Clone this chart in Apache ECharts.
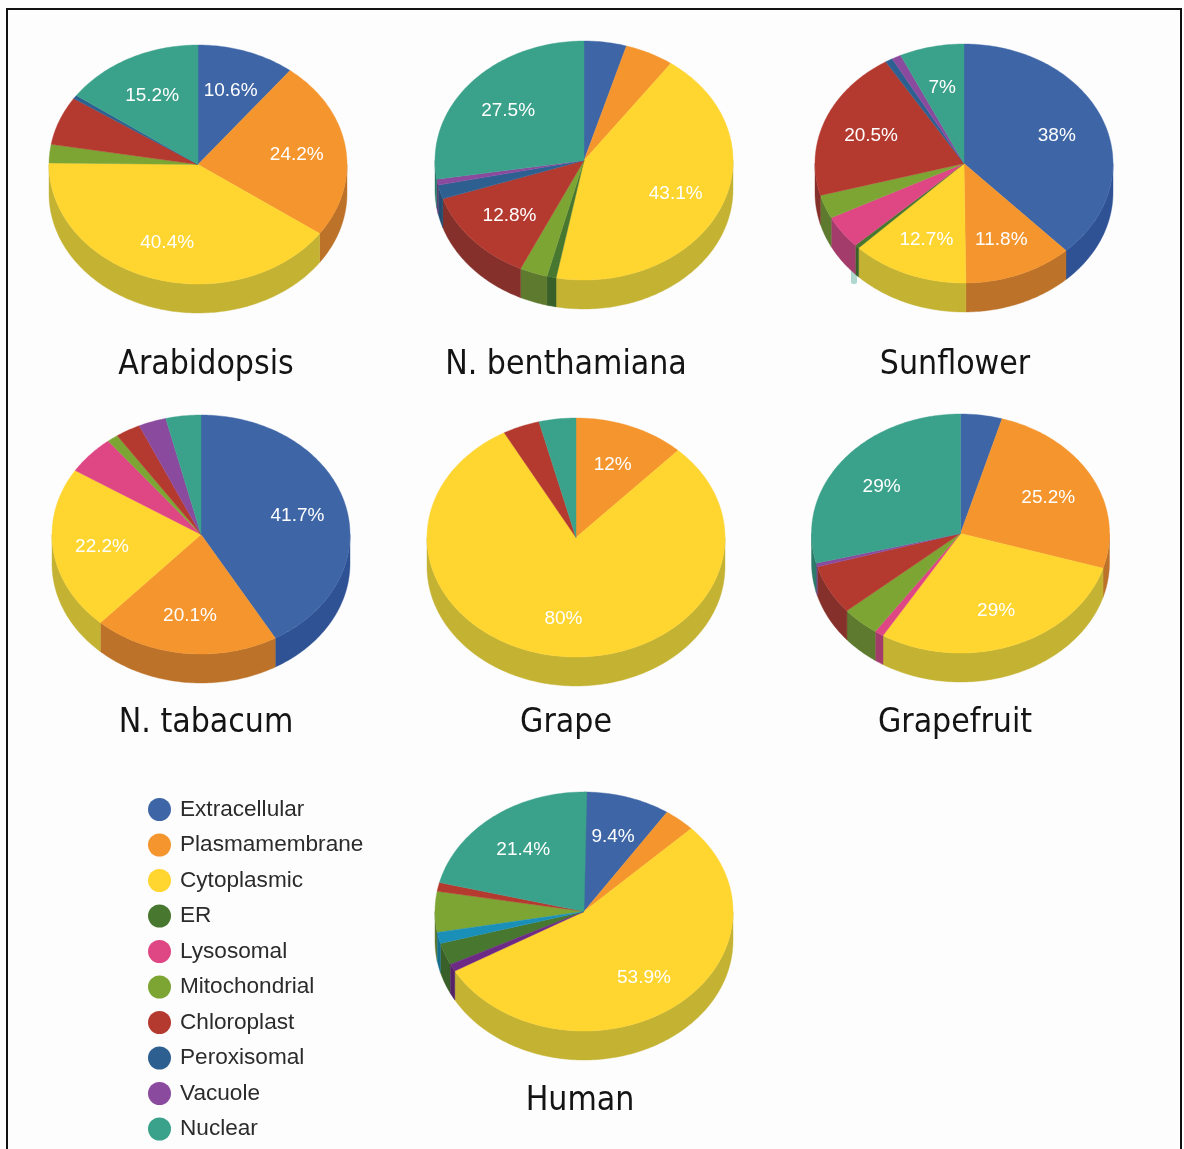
<!DOCTYPE html>
<html>
<head>
<meta charset="utf-8">
<title>Subcellular localisation by species</title>
<script src="https://cdn.jsdelivr.net/npm/echarts@6/dist/echarts.min.js"></script>
<style>
html,body{margin:0;padding:0;background:#fdfdfd;overflow:hidden}
#chart{width:1184px;height:1149px}
</style>
</head>
<body>
<div id="chart"></div>
<script>
// Species, one pie each, in the same order as the value arrays below.
const species = ['Arabidopsis', 'N. benthamiana', 'Sunflower', 'N. tabacum', 'Grape', 'Grapefruit', 'Human'];

// Share of predicted proteins per compartment (percent), per species.
const extracellular  = [10.6, 4.6, 38.0, 41.7, 0, 4.5, 9.4];
const plasmamembrane = [24.2, 5.3, 11.8, 20.1, 12, 25.2, 3.4];
const cytoplasmic    = [40.4, 43.1, 12.7, 22.2, 80, 29, 53.9];
const er             = [0, 1.0, 0.5, 0, 0, 0, 3.0];
const lysosomal      = [0, 0, 4.5, 5.3, 0, 1.0, 0];
const mitochondrial  = [2.5, 3.0, 3.2, 1.2, 0, 4.1, 5.5];
const chloroplast    = [6.6, 12.8, 20.5, 2.7, 4, 6.7, 1.2];
const peroxisomal    = [0.5, 1.9, 0.8, 0, 0, 0, 0];
const vacuole        = [0, 0.8, 1.0, 3.0, 0, 0.5, 1.0];
const nuclear        = [15.2, 27.5, 7, 3.8, 4, 29, 21.4];
const unlisted       = [0, 0, 0, 0, 0, 0, 1.5];

const compartments = [
  { name: 'Extracellular',  values: extracellular,  top: '#3e66a6', side: '#2f5295' },
  { name: 'Plasmamembrane', values: plasmamembrane, top: '#f4952e', side: '#bc7228' },
  { name: 'Cytoplasmic',    values: cytoplasmic,    top: '#ffd530', side: '#c4b332' },
  { name: 'ER',             values: er,             top: '#48772f', side: '#3a6029' },
  { name: 'Lysosomal',      values: lysosomal,      top: '#df4784', side: '#a33c6a' },
  { name: 'Mitochondrial',  values: mitochondrial,  top: '#7da534', side: '#5e7a2e' },
  { name: 'Chloroplast',    values: chloroplast,    top: '#b43a30', side: '#85302a' },
  { name: 'Peroxisomal',    values: peroxisomal,    top: '#2d6090', side: '#234c72' },
  { name: 'Vacuole',        values: vacuole,        top: '#8a4a9e', side: '#683a78' },
  { name: 'Nuclear',        values: nuclear,        top: '#3aa18a', side: '#2c7a69' },
  { name: 'Unlisted',       values: unlisted,       top: '#1a8fb8', side: '#156f8e' }
];
const legendNames = compartments.slice(0, 10).map(c => c.name);

// Slices run clockwise from twelve o'clock; the human pie has its own sequence.
const defaultOrder = legendNames;
const humanOrder = ['Extracellular', 'Plasmamembrane', 'Cytoplasmic', 'Vacuole', 'ER', 'Unlisted',
                    'Mitochondrial', 'Chloroplast', 'Nuclear'];
const orderFor = i => (species[i] === 'Human' ? humanOrder : defaultOrder);
const humanVacuoleTop = '#6d2a84';
const humanVacuoleSide = '#552166';

// Placement of each pie: centre of the top ellipse and title position.
const pieLayout = [
  { cx: 198, cy: 164.5, tx: 206, ty: 365 },
  { cx: 584, cy: 160.5, tx: 566, ty: 365 },
  { cx: 964, cy: 163.5, tx: 955, ty: 365 },
  { cx: 201, cy: 534.5, tx: 206, ty: 723 },
  { cx: 576, cy: 537.5, tx: 566, ty: 723 },
  { cx: 960.5, cy: 533.5, tx: 955, ty: 723 },
  { cx: 584, cy: 911.5, tx: 580, ty: 1101 }
];
const RX = 149, RY = 119.5, DEPTH = 29, LABEL_MIN = 7;
const LABEL_FX = 0.67, LABEL_FY = 0.67, LABEL_DY = 2;
const byName = Object.fromEntries(compartments.map(c => [c.name, c]));

const angleOf = pct => echarts.number.linearMap(pct, [0, 100], [0, Math.PI * 2]);
const pointOn = (p, a, dy) => [p.cx + RX * Math.sin(a), p.cy - RY * Math.cos(a) + dy];

function arc(p, a0, a1, dy) {
  const n = Math.max(2, Math.ceil((a1 - a0) / (Math.PI / 180)));
  const pts = [];
  for (let k = 0; k <= n; k++) pts.push(pointOn(p, a0 + (a1 - a0) * k / n, dy));
  return pts;
}

// Percent already used by the slices ahead of this compartment in the pie.
function startOf(pieIndex, name) {
  let sum = 0;
  for (const other of orderFor(pieIndex)) {
    if (other === name) break;
    sum += byName[other].values[pieIndex];
  }
  return sum;
}

function renderSlice(comp) {
  return function (params, api) {
    const i = api.value(0), v = api.value(1);
    const p = pieLayout[i];
    const isHumanVacuole = species[i] === 'Human' && comp.name === 'Vacuole';
    const top = isHumanVacuole ? humanVacuoleTop : comp.top;
    const side = isHumanVacuole ? humanVacuoleSide : comp.side;
    const start = startOf(i, comp.name);
    const a0 = angleOf(start), a1 = angleOf(start + v);
    const children = [];

    // Outer wall: only the front half of the rim is visible.
    const w0 = Math.max(a0, Math.PI / 2), w1 = Math.min(a1, Math.PI * 1.5);
    if (w1 > w0) {
      const upper = arc(p, w0, w1, 0), lower = arc(p, w0, w1, DEPTH).reverse();
      children.push({
        type: 'polygon',
        shape: { points: upper.concat(lower) },
        style: { fill: side, stroke: side, lineWidth: 0.4 }
      });
    }
    children.push({
      type: 'polygon',
      shape: { points: [[p.cx, p.cy]].concat(arc(p, a0, a1, 0)) },
      style: { fill: top, stroke: top, lineWidth: 0.4 }
    });
    if (v >= LABEL_MIN) {
      const mid = (a0 + a1) / 2;
      children.push({
        type: 'text',
        z2: 5,
        style: {
          x: p.cx + RX * LABEL_FX * Math.sin(mid),
          y: p.cy - RY * LABEL_FY * Math.cos(mid) + LABEL_DY,
          text: v + '%', fill: '#fff',
          font: '19px "Liberation Sans", Arial, sans-serif',
          align: 'center', verticalAlign: 'middle'
        }
      });
    }
    return { type: 'group', children };
  };
}

const chart = echarts.init(document.getElementById('chart'));
chart.setOption({
  animation: false,
  backgroundColor: '#fdfdfd',
  title: species.map((s, i) => ({
    text: s,
    left: pieLayout[i].tx,
    top: pieLayout[i].ty,
    padding: 0,
    textAlign: 'center',
    textVerticalAlign: 'middle',
    textStyle: { fontFamily: '"DejaVu Sans Condensed", "DejaVu Sans", sans-serif', fontWeight: 'normal', fontSize: 33.5, color: '#141414' }
  })),
  legend: {
    orient: 'vertical',
    left: 148,
    top: 798,
    height: 351,
    padding: 0,
    icon: 'circle',
    itemWidth: 23,
    itemHeight: 23,
    itemGap: 12.5,
    selectedMode: false,
    data: legendNames,
    textStyle: { fontFamily: '"Liberation Sans", Arial, sans-serif', fontSize: 22.6, color: '#2b2b2b', padding: [0, 0, 0, 4] }
  },
  graphic: [
    { type: 'rect', silent: true, z: -1, shape: { x: 7, y: 9, width: 1174, height: 1200 },
      style: { fill: 'none', stroke: '#111', lineWidth: 2 } },
    { type: 'rect', silent: true, z: -1, shape: { x: 851, y: 264, width: 6, height: 20, r: 2 },
      style: { fill: '#3aa18a', opacity: 0.4 } }
  ],
  series: compartments.map(c => ({
    type: 'custom',
    name: c.name,
    coordinateSystem: 'none',
    silent: true,
    itemStyle: { color: c.top },
    renderItem: renderSlice(c),
    data: c.values.map((v, i) => [i, v]).filter(row => row[1] > 0)
  }))
});
</script>
</body>
</html>
